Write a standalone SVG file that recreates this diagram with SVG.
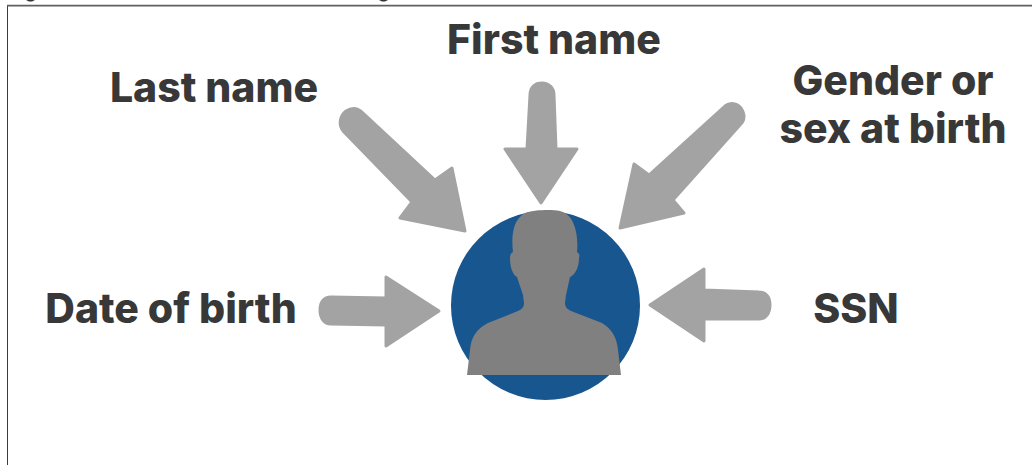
<svg xmlns="http://www.w3.org/2000/svg" width="1032" height="465" viewBox="0 0 1032 465">
<style>
.l{font-family:"Inter","Lato","Liberation Sans",sans-serif;font-weight:800;font-size:41px;fill:#383838;text-anchor:middle}
.a{fill:#a3a3a3;stroke:#a3a3a3;stroke-width:3;stroke-linejoin:round}
</style>
<rect width="1032" height="465" fill="#fff"/>
<path d="M7.500 465V6" fill="none" stroke="#3c3c3c" stroke-width="1"/>
<path d="M7 5.700H1032" fill="none" stroke="#606060" stroke-width="1.800"/>
<path d="M26 0H35L32 1.500H29ZM379 0H388L385 1.500H382Z" fill="#333"/>
<g id="connectors">
<path id="arrow-last" class="a" d="M343 131C338 124 340 116 346 111C352 107 358 108 363 113L435 180L452 168L465 231L400 218L412 202Z"/>
<path id="arrow-first" class="a" d="M530 95C530 87 535 83 542 83C549 83 554 88 554 95L556 149L577 149L541 203L505 149L527 149Z"/>
<path id="arrow-gender" class="a" d="M725 106C730 102 737 103 741 108C745 114 745 120 740 125L673 200L684 213L620 228L634 164L649 175Z"/>
<path id="arrow-dob" class="a" d="M331 297L386 298L386 277L439 311L386 346L386 325L331 324C324 324 320 318 320 310C320 302 324 297 331 297Z"/>
<path id="arrow-ssn" class="a" d="M759 292L704 290L704 269L650 305L704 341L704 319L759 319C766 319 770 313 770 305C770 297 766 292 759 292Z"/>
</g>
<g id="person">
<circle cx="545.500" cy="305.500" r="94.500" fill="#18568f"/>
<path fill="#808080" d="M467 375L470 350C471 338 476 329 488 323L518 311C522 309 524 307 524 303L523 295L517 277C512 274 510 266 510 258C510 255 511 253 513 252C512 244 512 235 514 228C516 220 522 213 528 212C534 210 552 209 560 211C568 213 572 219 574 225C577 232 578 244 577 252C579 253 580 255 579 258C579 266 576 274 570 277L566 295L565 303C565 307 567 309 571 311L602 323C612 329 617 338 618 350L621 375Z"/>
</g>
<g id="label-first"><text class="l" x="554" y="54">First name</text></g>
<g id="label-last"><text class="l" x="214" y="102">Last name</text></g>
<g id="label-gender"><text class="l" x="893" y="95">Gender or</text><text class="l" x="893" y="143">sex at birth</text></g>
<g id="label-dob"><text class="l" x="171" y="323">Date of birth</text></g>
<g id="label-ssn"><text class="l" x="856" y="323">SSN</text></g>
</svg>
